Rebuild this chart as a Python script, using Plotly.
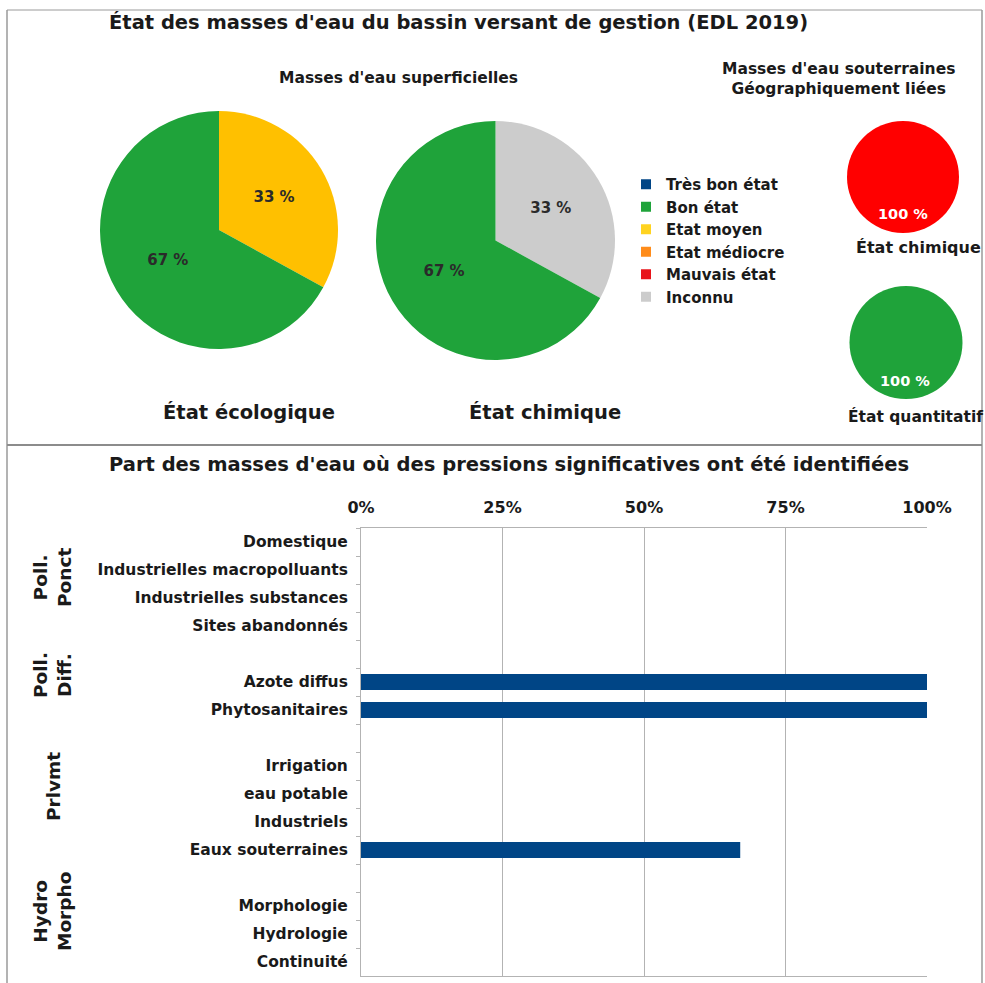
import plotly.graph_objects as go

W, H = 985, 983
def px(x): return x / W
def py(y): return 1 - y / H

# ---- data ----
legend_labels = ["Très bon état", "Bon état", "Etat moyen", "Etat médiocre", "Mauvais état", "Inconnu"]
legend_colors = ["#004586", "#1fa33a", "#ffd320", "#ff8c1a", "#e8141a", "#cccccc"]

eco_labels = ["Etat moyen", "Bon état"]
eco_values = [33, 67]
eco_colors = ["#ffc000", "#1fa33a"]

chim_labels = ["Inconnu", "Bon état"]
chim_values = [33, 67]
chim_colors = ["#cccccc", "#1fa33a"]

sout_chim_labels = ["Mauvais état"]
sout_chim_values = [100]
sout_chim_colors = ["#ff0000"]

sout_quant_labels = ["Bon état"]
sout_quant_values = [100]
sout_quant_colors = ["#1fa33a"]

pressure_categories = ["Domestique", "Industrielles macropolluants", "Industrielles substances",
                       "Sites abandonnés", " ", "Azote diffus", "Phytosanitaires", "  ",
                       "Irrigation", "eau potable", "Industriels", "Eaux souterraines", "   ",
                       "Morphologie", "Hydrologie", "Continuité"]
pressure_values = [0, 0, 0, 0, None, 1.0, 1.0, None, 0, 0, 0, 0.67, None, 0, 0, 0]
x_ticks = [0, 0.25, 0.5, 0.75, 1.0]
x_ticklabels = ["0%", "25%", "50%", "75%", "100%"]
group_labels = ["Poll.<br>Ponct", "Poll.<br>Diff.", "Prlvmt", "Hydro<br>Morpho"]

FONT = "DejaVu Sans"
TXT = "#1a1a1a"

fig = go.Figure()

def pie(labels, values, colors, x0, x1, y0, y1, text=True):
    fig.add_trace(go.Pie(
        labels=labels, values=values, sort=False, direction="clockwise", rotation=0,
        marker=dict(colors=colors, line=dict(width=0)),
        domain=dict(x=[px(x0), px(x1)], y=[py(y1), py(y0)]),
        textinfo="none" if not text else None,
        texttemplate="%{value} %" if text else None,
        textposition="inside" if text else "none",
        insidetextorientation="horizontal",
        textfont=dict(family=FONT, size=15, color="#2a2a2a", weight="bold"),
        showlegend=False, hoverinfo="label+percent",
    ))

pie(eco_labels, eco_values, eco_colors, 100, 338, 111, 349)
pie(chim_labels, chim_values, chim_colors, 376, 615, 121, 360)
pie(sout_chim_labels, sout_chim_values, sout_chim_colors, 847, 959, 121, 233, text=False)
pie(sout_quant_labels, sout_quant_values, sout_quant_colors, 849, 963, 286, 399, text=False)

# legend entries
for i, (lab, col) in enumerate(zip(legend_labels, legend_colors)):
    fig.add_trace(go.Scatter(
        x=[None], y=[None], mode="markers", name=lab, legendgroup=str(i),
        marker=dict(symbol="square", size=10, color=col),
        xaxis="x2", yaxis="y2", showlegend=True,
    ))

# bar chart
fig.add_trace(go.Bar(
    y=pressure_categories, x=pressure_values, orientation="h",
    marker=dict(color="#004586", line=dict(width=0)),
    width=0.57, showlegend=False, xaxis="x", yaxis="y",
))

fig.update_layout(
    width=W, height=H, autosize=False,
    margin=dict(l=0, r=0, t=0, b=0, pad=0, autoexpand=False),
    paper_bgcolor="white", plot_bgcolor="white",
    font=dict(family=FONT, color=TXT),
    xaxis=dict(domain=[px(361), px(927)], range=[0, 1], side="top", automargin=False,
               tickvals=x_ticks, ticktext=x_ticklabels,
               tickfont=dict(family=FONT, size=16, color=TXT, weight="bold"),
               showgrid=True, gridcolor="#b3b3b3", gridwidth=1,
               showline=True, linecolor="#b3b3b3", mirror=True,
               zeroline=False, ticks="", ticklabelstandoff=8, fixedrange=True),
    yaxis=dict(domain=[py(976), py(528)], autorange="reversed", type="category", automargin=False,
               categoryorder="array", categoryarray=pressure_categories,
               tickfont=dict(family=FONT, size=15.5, color=TXT, weight="bold"),
               showline=True, linecolor="#b3b3b3", ticks="outside", ticklen=4,
               tickcolor="#b3b3b3", tickson="boundaries", showgrid=False,
               ticklabelstandoff=9, fixedrange=True),
    xaxis2=dict(domain=[0, 0.01], visible=False, range=[0, 1], automargin=False),
    yaxis2=dict(domain=[0.99, 1], visible=False, range=[0, 1], automargin=False),
    legend=dict(x=px(626), y=py(168), xanchor="left", yanchor="top",
                font=dict(family=FONT, size=15, color=TXT, weight="bold"),
                tracegroupgap=0, itemwidth=30, bgcolor="rgba(0,0,0,0)"),
)

ann = []
def add_text(x, y, text, size, angle=0, color=TXT, xanchor="center"):
    ann.append(dict(x=px(x), y=py(y), xref="paper", yref="paper", text=text,
                    showarrow=False, font=dict(family=FONT, size=size, color=color, weight="bold"),
                    textangle=angle, xanchor=xanchor, yanchor="middle"))

add_text(107, 22, "État des masses d'eau du bassin versant de gestion (EDL 2019)", 19.5, xanchor="left")
add_text(398, 78, "Masses d'eau superficielles", 15.5)
add_text(838, 79, "Masses d'eau souterraines<br>Géographiquement liées", 15.5)
add_text(249, 413, "État écologique", 19.5)
add_text(545, 413, "État chimique", 19.5)
add_text(918, 248, "État chimique", 16)
add_text(915, 417, "État quantitatif", 15.5)
add_text(903, 214, f"{sout_chim_values[0]} %", 14.5, color="#ffffff")
add_text(905, 381, f"{sout_quant_values[0]} %", 14.5, color="#ffffff")
add_text(107, 465, "Part des masses d'eau où des pressions significatives ont été identifiées", 19.5, xanchor="left")
for (gx, gy), g in zip([(52, 578), (52, 675), (53, 787), (52, 912)], group_labels):
    add_text(gx, gy, g, 18.5, angle=-90)
fig.update_layout(annotations=ann)

shapes = [
    dict(type="line", xref="paper", yref="paper", x0=px(7), x1=px(7), y0=py(10), y1=0, line=dict(color="#9a9a9a", width=1.5)),
    dict(type="line", xref="paper", yref="paper", x0=px(982), x1=px(982), y0=py(10), y1=0, line=dict(color="#9a9a9a", width=1.5)),
    dict(type="line", xref="paper", yref="paper", x0=px(7), x1=px(982), y0=py(10), y1=py(10), line=dict(color="#9a9a9a", width=1)),
    dict(type="line", xref="paper", yref="paper", x0=px(7), x1=px(982), y0=py(445), y1=py(445), line=dict(color="#8c8c8c", width=2)),
]
fig.update_layout(shapes=shapes)

fig.write_html("out.html", config={"displayModeBar": False},
               post_script="document.body.style.margin='0';document.body.style.overflow='hidden';")
